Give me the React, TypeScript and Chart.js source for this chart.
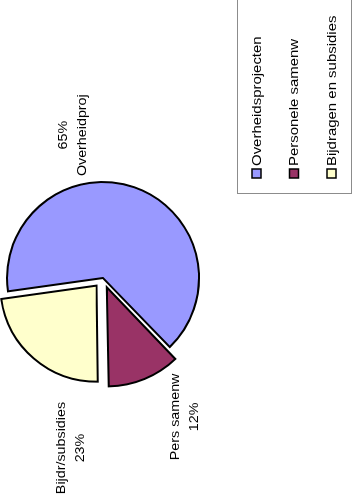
import React, { useEffect, useRef } from "react";
import { Chart, registerables } from "chart.js";

Chart.register(...registerables);

// ---- data ----
const categories = ["Overheidsprojecten", "Personele samenw", "Bijdragen en subsidies"];
const shortNames = ["Overheidproj", "Pers samenw", "Bijdr/subsidies"];
const values = [65, 12, 23];
const percentFirst = [true, false, false];

// ---- style ----
const colors = ["#9999FF", "#993366", "#FFFFCC"];
const explode = [0, 40, 40];
const labelAngleShift = [-31, -8, -30]; // degrees, relative to slice bisector
const labelGap = [50, 65, 77]; // px beyond the outer radius

const W = 495; // drawing frame (rotated on the page)
const H = 354;
const FONT = "13px 'Liberation Sans', Arial, Helvetica, sans-serif";

export default function App() {
  const ref = useRef<HTMLCanvasElement | null>(null);

  useEffect(() => {
    if (!ref.current) return;

    const whiteBg = {
      id: "whiteBg",
      beforeDraw(chart: any) {
        const ctx = chart.ctx;
        ctx.save();
        ctx.fillStyle = "#ffffff";
        ctx.fillRect(0, 0, chart.width, chart.height);
        ctx.restore();
      },
    };

    const sliceLabels = {
      id: "sliceLabels",
      afterDatasetsDraw(chart: any) {
        const ctx = chart.ctx;
        const meta = chart.getDatasetMeta(0);
        const total = values.reduce((a, b) => a + b, 0);
        ctx.save();
        ctx.fillStyle = "#000";
        ctx.font = FONT;
        ctx.textAlign = "center";
        ctx.textBaseline = "middle";
        meta.data.forEach((arc: any, i: number) => {
          const p = arc.getProps(["x", "y", "startAngle", "endAngle", "outerRadius"], true);
          const mid = (p.startAngle + p.endAngle) / 2 + (labelAngleShift[i] * Math.PI) / 180;
          const d = p.outerRadius + labelGap[i];
          const cx = p.x + Math.cos(mid) * d;
          const cy = p.y + Math.sin(mid) * d;
          const pct = Math.round((values[i] / total) * 100) + "%";
          const lines = percentFirst[i] ? [pct, shortNames[i]] : [shortNames[i], pct];
          lines.forEach((t, k) => {
            ctx.save();
            ctx.translate(cx, cy + (k - 0.5) * 19);
            ctx.scale(1.1, 1);
            ctx.fillText(t, 0, 0);
            ctx.restore();
          });
        });
        ctx.restore();
      },
    };

    const boxLegend = {
      id: "boxLegend",
      afterDraw(chart: any) {
        const ctx = chart.ctx;
        ctx.save();
        ctx.strokeStyle = "#8c8c8c";
        ctx.lineWidth = 1;
        ctx.strokeRect(301.5, 237.5, 210, 114);
        const y0 = 256.5;
        const step = 37.5;
        ctx.font = FONT;
        ctx.textAlign = "left";
        ctx.textBaseline = "middle";
        categories.forEach((c, i) => {
          const y = y0 + i * step;
          ctx.fillStyle = colors[i];
          ctx.fillRect(317, y - 4.5, 9, 9);
          ctx.strokeStyle = "#000";
          ctx.lineWidth = 1.5;
          ctx.strokeRect(317, y - 4.5, 9, 9);
          ctx.fillStyle = "#000";
          ctx.save();
          ctx.translate(329, y + 0.5);
          ctx.scale(1.15, 1);
          ctx.fillText(c, 0, 0);
          ctx.restore();
        });
        ctx.restore();
      },
    };

    const chart = new Chart(ref.current, {
      type: "pie",
      data: {
        labels: categories,
        datasets: [
          {
            data: values,
            backgroundColor: colors,
            borderColor: "#000000",
            borderWidth: 2,
            borderJoinStyle: "miter",
            offset: explode,
          } as any,
        ],
      },
      options: {
        responsive: false,
        animation: false,
        devicePixelRatio: 1,
        rotation: -8,
        radius: 96,
        layout: { padding: { left: 0, right: 61, top: 0, bottom: 148 } },
        plugins: {
          legend: { display: false },
          tooltip: { enabled: false },
          title: { display: false },
        },
        events: [],
      } as any,
      plugins: [whiteBg, sliceLabels, boxLegend],
    });

    return () => chart.destroy();
  }, []);

  return (
    <div
      style={{
        position: "fixed",
        left: 0,
        top: 0,
        width: 354,
        height: 495,
        overflow: "hidden",
        background: "#fff",
      }}
    >
      <canvas
        ref={ref}
        width={W}
        height={H}
        style={{
          position: "absolute",
          left: 0,
          top: 0,
          width: W,
          height: H,
          transformOrigin: "0 0",
          transform: `translate(0px, ${W}px) rotate(-90deg)`,
        }}
      />
    </div>
  );
}
